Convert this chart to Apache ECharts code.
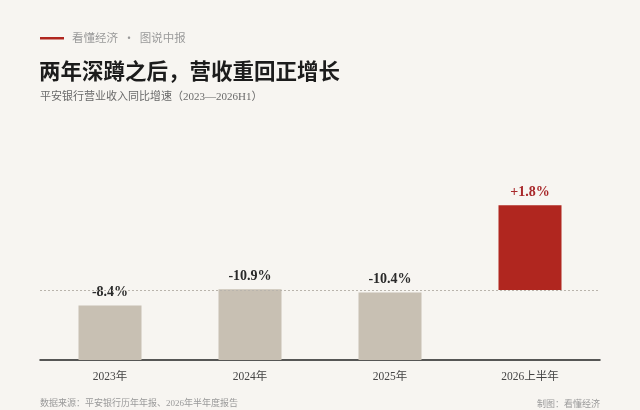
<!DOCTYPE html>
<html>
<head>
<meta charset="utf-8">
<script src="https://cdn.jsdelivr.net/npm/echarts@6/dist/echarts.min.js"></script>
<style>
  html, body { margin: 0; padding: 0; background: #f7f5f1; }
  #chart { width: 640px; height: 410px; }
</style>
</head>
<body>
<div id="chart"></div>
<script>
// 数据
const categories = ['2023年', '2024年', '2025年', '2026上半年'];
const growth = [-8.4, -10.9, -10.4, 1.8];

const serif = '"Liberation Serif", "DejaVu Serif", "Noto Sans CJK SC", serif';
const cjk = '"Noto Sans CJK SC", sans-serif';
const mixed = '"Liberation Serif", "Noto Sans CJK SC", serif';

// 负增长：柱子从底部向上画绝对值；正增长：从零线向上
const negData = growth.map(v => (v < 0 ? Math.abs(v) : '-'));
const posData = growth.map(v => (v >= 0 ? v : '-'));

function fmt(v) {
  return (v > 0 ? '+' : '') + v.toFixed(1) + '%';
}

const chart = echarts.init(document.getElementById('chart'), null, { renderer: 'canvas' });

const option = {
  backgroundColor: '#f7f5f1',
  animation: false,
  graphic: [
    // 顶部红线 + 栏目
    { type: 'rect', left: 40, top: 37, shape: { width: 24, height: 2.5 }, style: { fill: '#b0261f' } },
    { type: 'text', left: 72, top: 32, style: { text: '看懂经济  ·  图说中报', font: '11.5px ' + cjk, fill: '#9a9a9a' } },
    // 标题
    { type: 'text', left: 39, top: 60, style: { text: '两年深蹲之后，营收重回正增长', font: 'bold 21.5px ' + cjk, fill: '#1c1c1c' } },
    { type: 'text', left: 40, top: 92, style: { text: '平安银行营业收入同比增速（2023—2026H1）', font: '11px ' + mixed, fill: '#6a6a6a' } },
    // 底部来源
    { type: 'text', left: 40, top: 399, style: { text: '数据来源：平安银行历年年报、2026年半年度报告', font: '9px ' + mixed, fill: '#9a9a9a' } },
    { type: 'text', right: 40, top: 399, style: { text: '制图：看懂经济', font: '9px ' + cjk, fill: '#9a9a9a' } }
  ],
  grid: {
    left: 40,
    right: 40,
    top: 165,
    bottom: 50,
    containLabel: false
  },
  xAxis: {
    type: 'category',
    data: categories,
    axisLine: {
      onZero: false,
      lineStyle: { color: '#222', width: 1.5 }
    },
    axisTick: { show: false },
    axisLabel: {
      margin: 11,
      fontSize: 11.5,
      fontFamily: mixed,
      color: '#444'
    }
  },
  yAxis: [
    {
      type: 'value',
      min: 0,
      max: 30,
      show: false,
      splitLine: { show: false }
    },
    {
      type: 'value',
      min: -1.48,
      max: 2.65,
      show: false,
      splitLine: { show: false }
    }
  ],
  series: [
    {
      name: '负增长',
      type: 'bar',
      yAxisIndex: 0,
      barWidth: 63,
      barGap: '-100%',
      data: negData,
      itemStyle: { color: '#c8c0b3' },
      label: {
        show: true,
        position: 'top',
        distance: 6,
        fontSize: 14,
        fontWeight: 'bold',
        fontFamily: serif,
        color: '#2a2a2a',
        formatter: p => fmt(-p.value)
      }
    },
    {
      name: '正增长',
      type: 'bar',
      yAxisIndex: 1,
      barWidth: 63,
      data: posData,
      itemStyle: { color: '#b0261f' },
      label: {
        show: true,
        position: 'top',
        distance: 6,
        fontSize: 14,
        fontWeight: 'bold',
        fontFamily: serif,
        color: '#a8282a',
        formatter: p => fmt(p.value)
      },
      // 零线
      markLine: {
        silent: true,
        symbol: 'none',
        label: { show: false },
        lineStyle: { color: '#b9b4ac', type: [2, 2], width: 1 },
        data: [{ yAxis: 0 }]
      },
      z: 3
    }
  ]
};

chart.setOption(option);
</script>
</body>
</html>
